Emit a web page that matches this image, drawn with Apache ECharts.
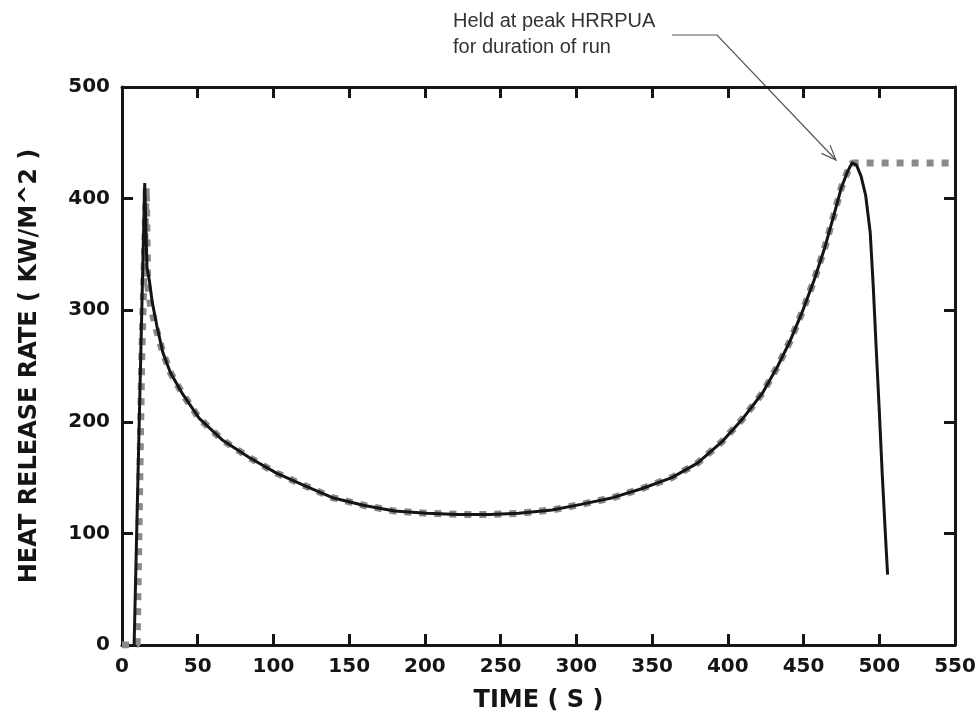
<!DOCTYPE html>
<html>
<head>
<meta charset="utf-8">
<script src="https://cdn.jsdelivr.net/npm/echarts@6/dist/echarts.min.js"></script>
<style>
  html, body { margin: 0; background: #fff; }
  #chart { width: 976px; height: 717px; }
</style>
</head>
<body>
<div id="chart"></div>
<script>
// [time (s), heat release rate (kW/m^2)]
const riseModel = [[8, 0], [15, 414]];
const decayModel = [[16.5, 338], [18, 327], [20, 307], [23, 286]];
const riseInput = [[0, 0], [10, 0], [13, 255], [16, 410]];
const decayInput = [[17, 322], [19, 303], [22, 286]];
// both curves overlap here
const sharedCurve = [
    [27, 262], [32, 244], [40, 225], [51, 203], [66, 184], [84, 168], [102, 154],
    [122, 142], [139, 132], [160, 125], [180, 120], [201, 118], [222, 117], [243, 117],
    [262, 118], [284, 121], [303, 126], [324, 132], [343, 140], [363, 150], [380, 163],
    [396, 182], [410, 203], [423, 226], [433, 250], [441, 272], [449, 298], [457, 327],
    [464, 356], [470, 385], [475, 410], [479, 424], [482, 432]
];
const fallModel = [[485, 430], [488, 420], [491, 403], [494, 370], [496, 322], [498, 265],
    [500, 210], [502, 152], [504, 100], [505.5, 63]];
const holdInput = [[550, 432]];   // held at peak for rest of run

const xMin = 0, xMax = 550, xStep = 50;
const yMin = 0, yMax = 500, yStep = 100;

const modelData = [...riseModel, ...decayModel, ...sharedCurve, ...fallModel];
const inputData = [...riseInput, ...decayInput, ...sharedCurve, ...holdInput];

const plotFont = "'DejaVu Sans'";
const ink = '#151515';

function axisBase(extra) {
    return Object.assign({
        type: 'value',
        axisLine: { show: true, onZero: false, lineStyle: { color: ink, width: 3 } },
        axisTick: { show: true, inside: true, length: 11, lineStyle: { color: ink, width: 3 } },
        splitLine: { show: false },
        axisLabel: { show: false }
    }, extra);
}

const labelStyle = { show: true, color: ink, fontFamily: plotFont, fontWeight: 'bold', fontSize: 20, margin: 12 };
const nameStyle = { color: ink, fontFamily: plotFont, fontWeight: 'bold', fontSize: 24 };

// leader line for the note
const tip = [836, 160];
const elbow = [717, 35];
const dx = tip[0] - elbow[0], dy = tip[1] - elbow[1];
const len = Math.sqrt(dx * dx + dy * dy);
const ux = dx / len, uy = dy / len;
const barb = 16, ang = 0.38;
function barbPoint(sign) {
    const c = Math.cos(sign * ang), s = Math.sin(sign * ang);
    const bx = -(ux * c - uy * s), by = -(ux * s + uy * c);
    return [tip[0] + bx * barb, tip[1] + by * barb];
}

const chart = echarts.init(document.getElementById('chart'));
chart.setOption({
    animation: false,
    backgroundColor: '#fff',
    grid: { left: 122, right: 21, top: 87, bottom: 72, outerBoundsMode: 'none' },
    xAxis: [
        axisBase({
            position: 'bottom', min: xMin, max: xMax, interval: xStep,
            axisLabel: labelStyle,
            name: 'TIME ( S )', nameLocation: 'middle', nameGap: 44, nameTextStyle: nameStyle
        }),
        axisBase({ position: 'top', min: xMin, max: xMax, interval: xStep })
    ],
    yAxis: [
        axisBase({
            position: 'left', min: yMin, max: yMax, interval: yStep,
            axisLabel: labelStyle,
            name: 'HEAT RELEASE RATE ( KW/M^2 )', nameLocation: 'middle', nameRotate: 90,
            nameGap: 80, nameTextStyle: nameStyle
        }),
        axisBase({ position: 'right', min: yMin, max: yMax, interval: yStep })
    ],
    series: [
        {
            name: 'input',
            type: 'line',
            data: inputData,
            showSymbol: false,
            z: 2,
            lineStyle: { color: '#8a8a8a', width: 7, type: [7, 8], cap: 'butt' }
        },
        {
            name: 'model',
            type: 'line',
            data: modelData,
            showSymbol: false,
            z: 3,
            lineStyle: { color: ink, width: 3 }
        }
    ],
    graphic: [
        {
            type: 'text', left: 453, top: 8,
            style: {
                text: 'Held at peak HRRPUA\nfor duration of run',
                font: "20px 'Liberation Sans'", fill: '#333', lineHeight: 26
            }
        },
        {
            type: 'polyline',
            shape: { points: [[672, 35], elbow, tip] },
            style: { stroke: '#555', lineWidth: 1.2, fill: null }
        },
        {
            type: 'polyline',
            shape: { points: [barbPoint(1), tip, barbPoint(-1)] },
            style: { stroke: '#555', lineWidth: 1.2, fill: null }
        }
    ]
});
</script>
</body>
</html>
